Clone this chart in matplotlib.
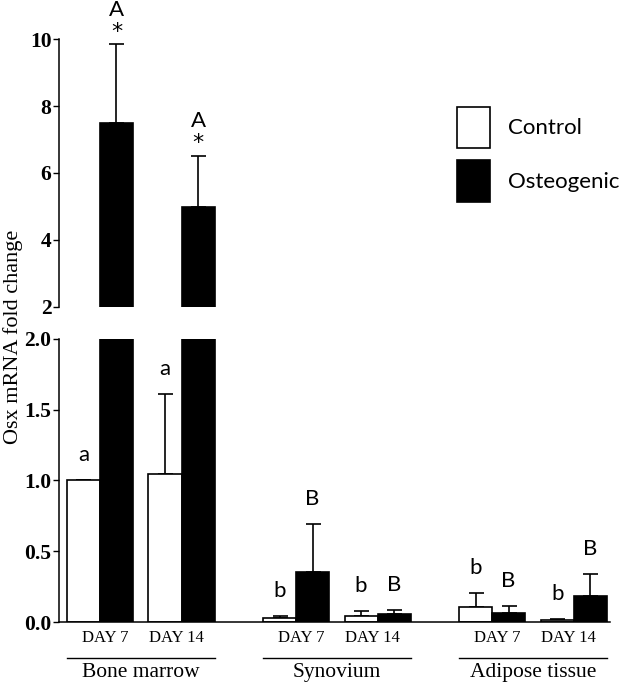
import numpy as np
import matplotlib
matplotlib.use("Agg")
import matplotlib.pyplot as plt
from matplotlib.patches import Patch
from matplotlib.transforms import blended_transform_factory

# data
groups = ["Bone marrow", "Synovium", "Adipose tissue"]
days = ["DAY 7", "DAY 14"]
ctrl_mean = [1.0, 1.044, 0.025, 0.042, 0.108, 0.016]
ctrl_err = [0.0, 0.57, 0.016, 0.034, 0.10, 0.007]
osteo_mean = [7.5, 4.98, 0.353, 0.054, 0.064, 0.186]
osteo_err = [2.34, 1.54, 0.342, 0.031, 0.051, 0.151]
ctrl_letters = ["a", "a", "b", "b", "b", "b"]
osteo_letters = ["A", "A", "B", "B", "B", "B"]
osteo_star = [True, True, False, False, False, False]

SERIF = "Liberation Serif"
SANS = "Lato"

# pair centres: two days per group
pair_gap, group_gap = 2.47, 5.94
pos = []
for g in range(len(groups)):
    for d in range(len(days)):
        pos.append(g * group_gap + d * pair_gap)
pos = np.array(pos)
xc = pos - 0.5
xo = pos + 0.5

fig = plt.figure(figsize=(6.24, 6.88), dpi=100)
ax_top = fig.add_axes([0.0946, 0.5538, 0.883, 0.3895])
ax_bot = fig.add_axes([0.0946, 0.0959, 0.883, 0.4114])

for ax in (ax_top, ax_bot):
    ax.bar(xc, ctrl_mean, width=1.0, color="white", edgecolor="black", linewidth=1.2, zorder=2)
    ax.bar(xo, osteo_mean, width=1.0, color="black", edgecolor="black", linewidth=1.2, zorder=2)
    ax.errorbar(xc, ctrl_mean, yerr=[np.zeros(6), ctrl_err], fmt="none", ecolor="black",
                elinewidth=1.2, capsize=5.4, capthick=1.2, zorder=1)
    ax.errorbar(xo, osteo_mean, yerr=[np.zeros(6), osteo_err], fmt="none", ecolor="black",
                elinewidth=1.2, capsize=5.4, capthick=1.2, zorder=1)
    ax.set_xlim(-1.24, 15.45)
    ax.spines["top"].set_visible(False)
    ax.spines["right"].set_visible(False)
    ax.spines["left"].set_linewidth(1.1)
    ax.spines["bottom"].set_linewidth(1.1)
    ax.set_xticks([])
    ax.tick_params(axis="y", direction="out", length=4.5, width=1.0, pad=1)

ax_top.set_ylim(2, 10)
ax_top.set_yticks([2, 4, 6, 8, 10])
ax_top.set_yticklabels(["2", "4", "6", "8", "10"], fontfamily=SERIF, fontweight="bold", fontsize=15.5)
ax_top.spines["bottom"].set_visible(False)

ax_bot.set_ylim(0, 2.0)
ax_bot.set_yticks([0, 0.5, 1.0, 1.5, 2.0])
ax_bot.set_yticklabels(["0.0", "0.5", "1.0", "1.5", "2.0"], fontfamily=SERIF, fontweight="bold", fontsize=15.5)

# significance letters above each bar
def put_letters(x, mean, err, letters, stars):
    for i in range(len(x)):
        top = mean[i] + err[i]
        ax = ax_top if top > 2 else ax_bot
        if stars is not None and stars[i]:
            ax.annotate("*", (x[i], top), xytext=(0, 9), textcoords="offset points",
                        ha="center", va="center", fontsize=16, fontfamily="DejaVu Sans",
                        annotation_clip=False)
            ax.annotate(letters[i], (x[i], top), xytext=(0, 25), textcoords="offset points",
                        ha="center", va="center", fontsize=16, fontfamily=SANS, annotation_clip=False)
        else:
            ax.annotate(letters[i], (x[i], top), xytext=(0, 18), textcoords="offset points",
                        ha="center", va="center", fontsize=16, fontfamily=SANS, annotation_clip=False)

put_letters(xc, ctrl_mean, ctrl_err, ctrl_letters, None)
put_letters(xo, osteo_mean, osteo_err, osteo_letters, osteo_star)

# day labels, group underline and group names below the axis
trans = blended_transform_factory(ax_bot.transData, ax_bot.transAxes)
for i, p in enumerate(pos):
    shift = 0.15 if i % 2 == 0 else -0.15
    ax_bot.text(p + shift, -0.057, days[i % 2], transform=trans, ha="center", va="center",
                fontsize=12, fontfamily=SERIF)
for g, name in enumerate(groups):
    left = pos[2 * g] - 1.0
    right = pos[2 * g + 1] + 1.0
    ax_bot.plot([left, right], [-0.127, -0.127], transform=trans, color="black",
                linewidth=1.0, clip_on=False)
    ax_bot.text((left + right) / 2, -0.18, name, transform=trans, ha="center", va="center",
                fontsize=15.5, fontfamily=SERIF)

fig.text(0.021, 0.51, "Osx mRNA fold change", rotation=90, ha="center", va="center",
         fontsize=16, fontfamily=SERIF)

handles = [Patch(facecolor="white", edgecolor="black", linewidth=1.2, label="Control"),
           Patch(facecolor="black", edgecolor="black", linewidth=1.2, label="Osteogenic")]
fig.legend(handles=handles, loc="upper left", bbox_to_anchor=(0.718, 0.858), frameon=False,
           prop={"family": SANS, "size": 16}, handlelength=1.5, handleheight=2.5,
           labelspacing=0.55, handletextpad=0.8, borderaxespad=0)

fig.savefig("out.png", dpi=100)
